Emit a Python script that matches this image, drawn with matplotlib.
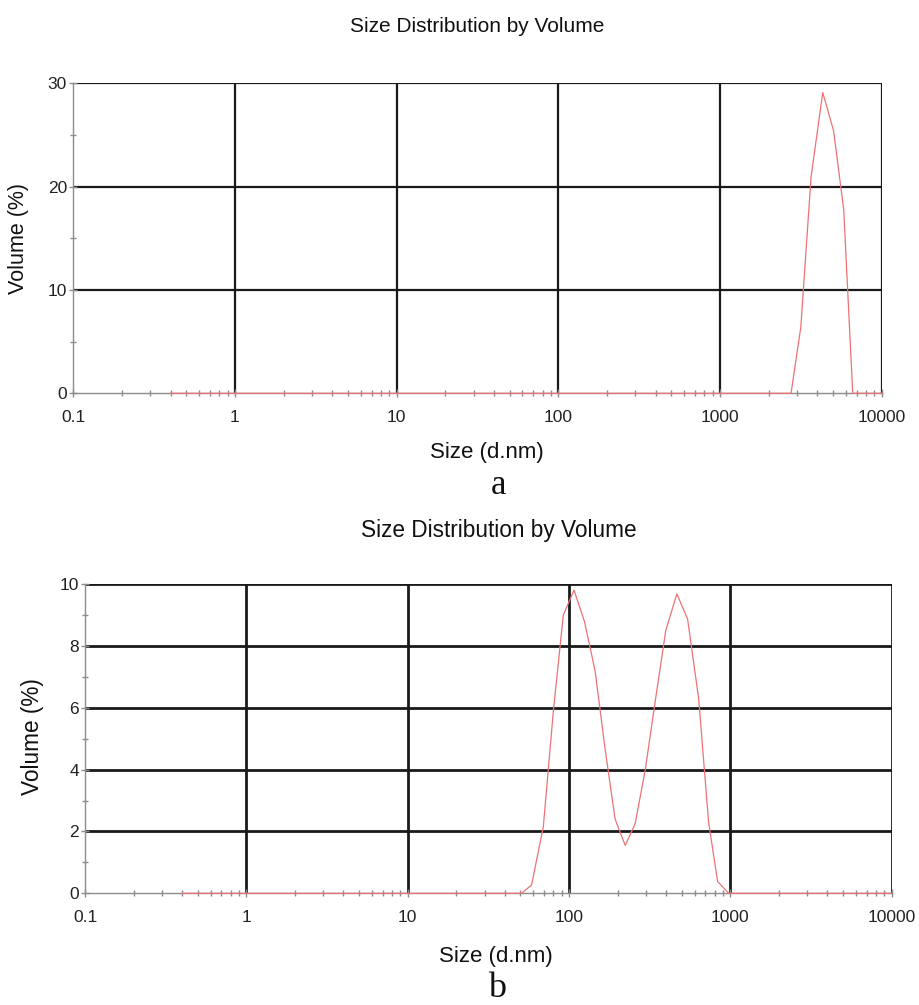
import matplotlib
matplotlib.use('Agg')
import matplotlib.pyplot as plt
from matplotlib.ticker import LogLocator, NullFormatter, FixedLocator

plt.rcParams['font.family'] = ['Liberation Sans', 'DejaVu Sans']

# ---------------- data ----------------
x_ticks = [0.1, 1, 10, 100, 1000, 10000]
x_tick_labels = ['0.1', '1', '10', '100', '1000', '10000']

# panel a
sizes_a = [0.4, 2750, 3160, 3660, 4320, 5040, 5820, 6620, 10000]
volume_a = [0, 0, 6.4, 21.0, 29.1, 25.4, 17.8, 0, 0]
y_ticks_a = [0, 10, 20, 30]
y_minor_a = [5, 15, 25]

# panel b
sizes_b = [0.4, 50.8, 58.6, 69.3, 80.0, 92.2, 107.4, 124.5, 145, 167, 193,
           223, 257, 297, 342, 398, 466, 543, 636, 733, 834, 977, 10000]
volume_b = [0, 0, 0.27, 2.15, 5.9, 9.0, 9.8, 8.8, 7.2, 4.7, 2.4,
            1.55, 2.25, 4.0, 6.2, 8.5, 9.68, 8.87, 6.3, 2.3, 0.38, 0, 0]
y_ticks_b = [0, 2, 4, 6, 8, 10]
y_minor_b = [1, 3, 5, 7, 9]

title = 'Size Distribution by Volume'
xlabel = 'Size (d.nm)'
ylabel = 'Volume (%)'

W, H = 919, 1005
fig = plt.figure(figsize=(W / 100, H / 100), dpi=100)

ax1 = fig.add_axes([73.3 / W, 1 - 393.3 / H, (881.7 - 73.3) / W, (393.3 - 83.3) / H])
ax2 = fig.add_axes([85 / W, 1 - 893.3 / H, (891.7 - 85) / W, (893.3 - 584) / H])

LINE_RED = '#ec7276'
SPINE_GRAY = '#8c8c8c'


def style(ax, sizes, vols, yticks, yminor, grid_lw, tick_fs):
    ax.set_xscale('log')
    ax.set_xlim(x_ticks[0], x_ticks[-1])
    ax.set_ylim(yticks[0], yticks[-1])
    for xv in x_ticks[1:]:
        ax.axvline(xv, color='#1a1a1a', lw=grid_lw, zorder=1, solid_capstyle='butt')
    for yv in yticks[1:]:
        ax.axhline(yv, color='#1a1a1a', lw=grid_lw, zorder=1, solid_capstyle='butt')
    ax.plot(sizes, vols, color=LINE_RED, lw=0.9, zorder=3, clip_on=False)
    for s in ['top', 'right']:
        ax.spines[s].set_visible(False)
    for s in ['left', 'bottom']:
        ax.spines[s].set_color(SPINE_GRAY)
        ax.spines[s].set_linewidth(1.0)
    ax.set_xticks(x_ticks)
    ax.set_xticklabels(x_tick_labels)
    ax.xaxis.set_minor_locator(LogLocator(base=10, subs=range(2, 10), numticks=20))
    ax.xaxis.set_minor_formatter(NullFormatter())
    ax.set_yticks(yticks)
    ax.set_yticklabels([str(v) for v in yticks])
    ax.yaxis.set_minor_locator(FixedLocator(yminor))
    ax.tick_params(axis='both', which='major', direction='inout', length=6,
                   width=1.0, color=SPINE_GRAY, labelsize=tick_fs, labelcolor='#222222')
    ax.tick_params(axis='both', which='minor', direction='inout', length=4.5,
                   width=1.0, color=SPINE_GRAY)
    ax.tick_params(axis='y', which='major', pad=1.5)
    ax.tick_params(axis='x', which='major', pad=9)


style(ax1, sizes_a, volume_a, y_ticks_a, y_minor_a, 1.6, 12.5)
style(ax2, sizes_b, volume_b, y_ticks_b, y_minor_b, 2.0, 12.5)

# texts panel a
fig.text(477 / W, 1 - 26 / H, title, ha='center', va='center', fontsize=15, color='#111111')
fig.text(487 / W, 1 - 452 / H, xlabel, ha='center', va='center', fontsize=16, color='#111111')
fig.text(18.5 / W, 1 - 238 / H, ylabel, ha='center', va='center', rotation=90, fontsize=15.5, color='#111111')
fig.text(498 / W, 1 - 486 / H, 'a', ha='center', va='center', fontsize=25,
         family=['Liberation Serif', 'DejaVu Serif'], color='#111111')

# texts panel b
fig.text(499 / W, 1 - 531 / H, title, ha='center', va='center', fontsize=16.3, color='#111111')
fig.text(496 / W, 1 - 956 / H, xlabel, ha='center', va='center', fontsize=16, color='#111111')
fig.text(32 / W, 1 - 737 / H, ylabel, ha='center', va='center', rotation=90, fontsize=16.3, color='#111111')
fig.text(497 / W, 1 - 988 / H, 'b', ha='center', va='center', fontsize=26,
         family=['Liberation Serif', 'DejaVu Serif'], color='#111111')

fig.savefig('out.png', dpi=100, facecolor='white')
